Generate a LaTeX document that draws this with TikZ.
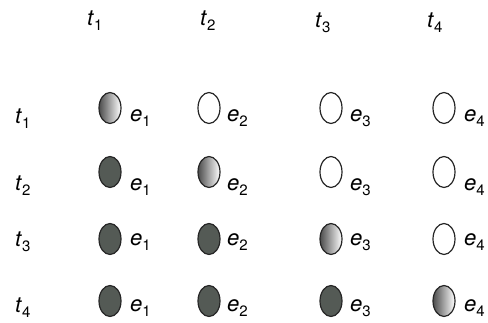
\documentclass[tikz,border=0pt]{standalone}
\usepackage{fontspec}
\setmainfont{TeX Gyre Heros}
\usetikzlibrary{shapes.geometric}
\definecolor{darkfill}{HTML}{545A55}
\newcommand\lbl[2]{\textit{#1}\raisebox{-0.45ex}{\fontsize{15}{15}\selectfont #2}}
\begin{document}
\begin{tikzpicture}[x=1pt,y=-1pt,
  ev/.style={ellipse,draw=black!85,line width=1.2pt,minimum width=22pt,minimum height=31pt,inner sep=0pt},
  ewhite/.style={ev,fill=white},
  edark/.style={ev,fill=darkfill},
  egrad/.style={ev,left color=black!70,right color=white},
  txt/.style={font=\fontsize{22}{22}\selectfont,inner sep=0pt,anchor=base west}]
\useasboundingbox (0,0) rectangle (488,322);
% column headers
\node[txt] (h1) at (87,25) {\lbl{t}{1}};
\node[txt] (h2) at (200,25) {\lbl{t}{2}};
\node[txt] (h3) at (315,27) {\lbl{t}{3}};
\node[txt] (h4) at (427,27) {\lbl{t}{4}};
% row labels
\node[txt] (r1) at (15,123) {\lbl{t}{1}};
\node[txt] (r2) at (15,190) {\lbl{t}{2}};
\node[txt] (r3) at (15,246) {\lbl{t}{3}};
\node[txt] (r4) at (15,312) {\lbl{t}{4}};
% row 1
\node[egrad]  (a1) at (110,108) {};
\node[ewhite] (a2) at (209,108) {};
\node[ewhite] (a3) at (331,108) {};
\node[ewhite] (a4) at (444,108) {};
\node[txt] (la1) at (130,121) {\lbl{e}{1}};
\node[txt] (la2) at (227,121) {\lbl{e}{2}};
\node[txt] (la3) at (350,121) {\lbl{e}{3}};
\node[txt] (la4) at (464,121) {\lbl{e}{4}};
% row 2
\node[edark]  (b1) at (110,172) {};
\node[egrad]  (b2) at (209,172) {};
\node[ewhite] (b3) at (331,172) {};
\node[ewhite] (b4) at (444,172) {};
\node[txt] (lb1) at (130,190) {\lbl{e}{1}};
\node[txt] (lb2) at (227,190) {\lbl{e}{2}};
\node[txt] (lb3) at (350,190) {\lbl{e}{3}};
\node[txt] (lb4) at (464,190) {\lbl{e}{4}};
% row 3
\node[edark]  (c1) at (110,239) {};
\node[edark]  (c2) at (209,239) {};
\node[egrad]  (c3) at (331,239) {};
\node[ewhite] (c4) at (444,239) {};
\node[txt] (lc1) at (130,245) {\lbl{e}{1}};
\node[txt] (lc2) at (227,245) {\lbl{e}{2}};
\node[txt] (lc3) at (350,245) {\lbl{e}{3}};
\node[txt] (lc4) at (464,245) {\lbl{e}{4}};
% row 4
\node[edark]  (d1) at (110,301) {};
\node[edark]  (d2) at (209,301) {};
\node[edark]  (d3) at (331,301) {};
\node[egrad]  (d4) at (444,301) {};
\node[txt] (ld1) at (130,311) {\lbl{e}{1}};
\node[txt] (ld2) at (227,311) {\lbl{e}{2}};
\node[txt] (ld3) at (350,311) {\lbl{e}{3}};
\node[txt] (ld4) at (464,311) {\lbl{e}{4}};
\end{tikzpicture}
\end{document}
